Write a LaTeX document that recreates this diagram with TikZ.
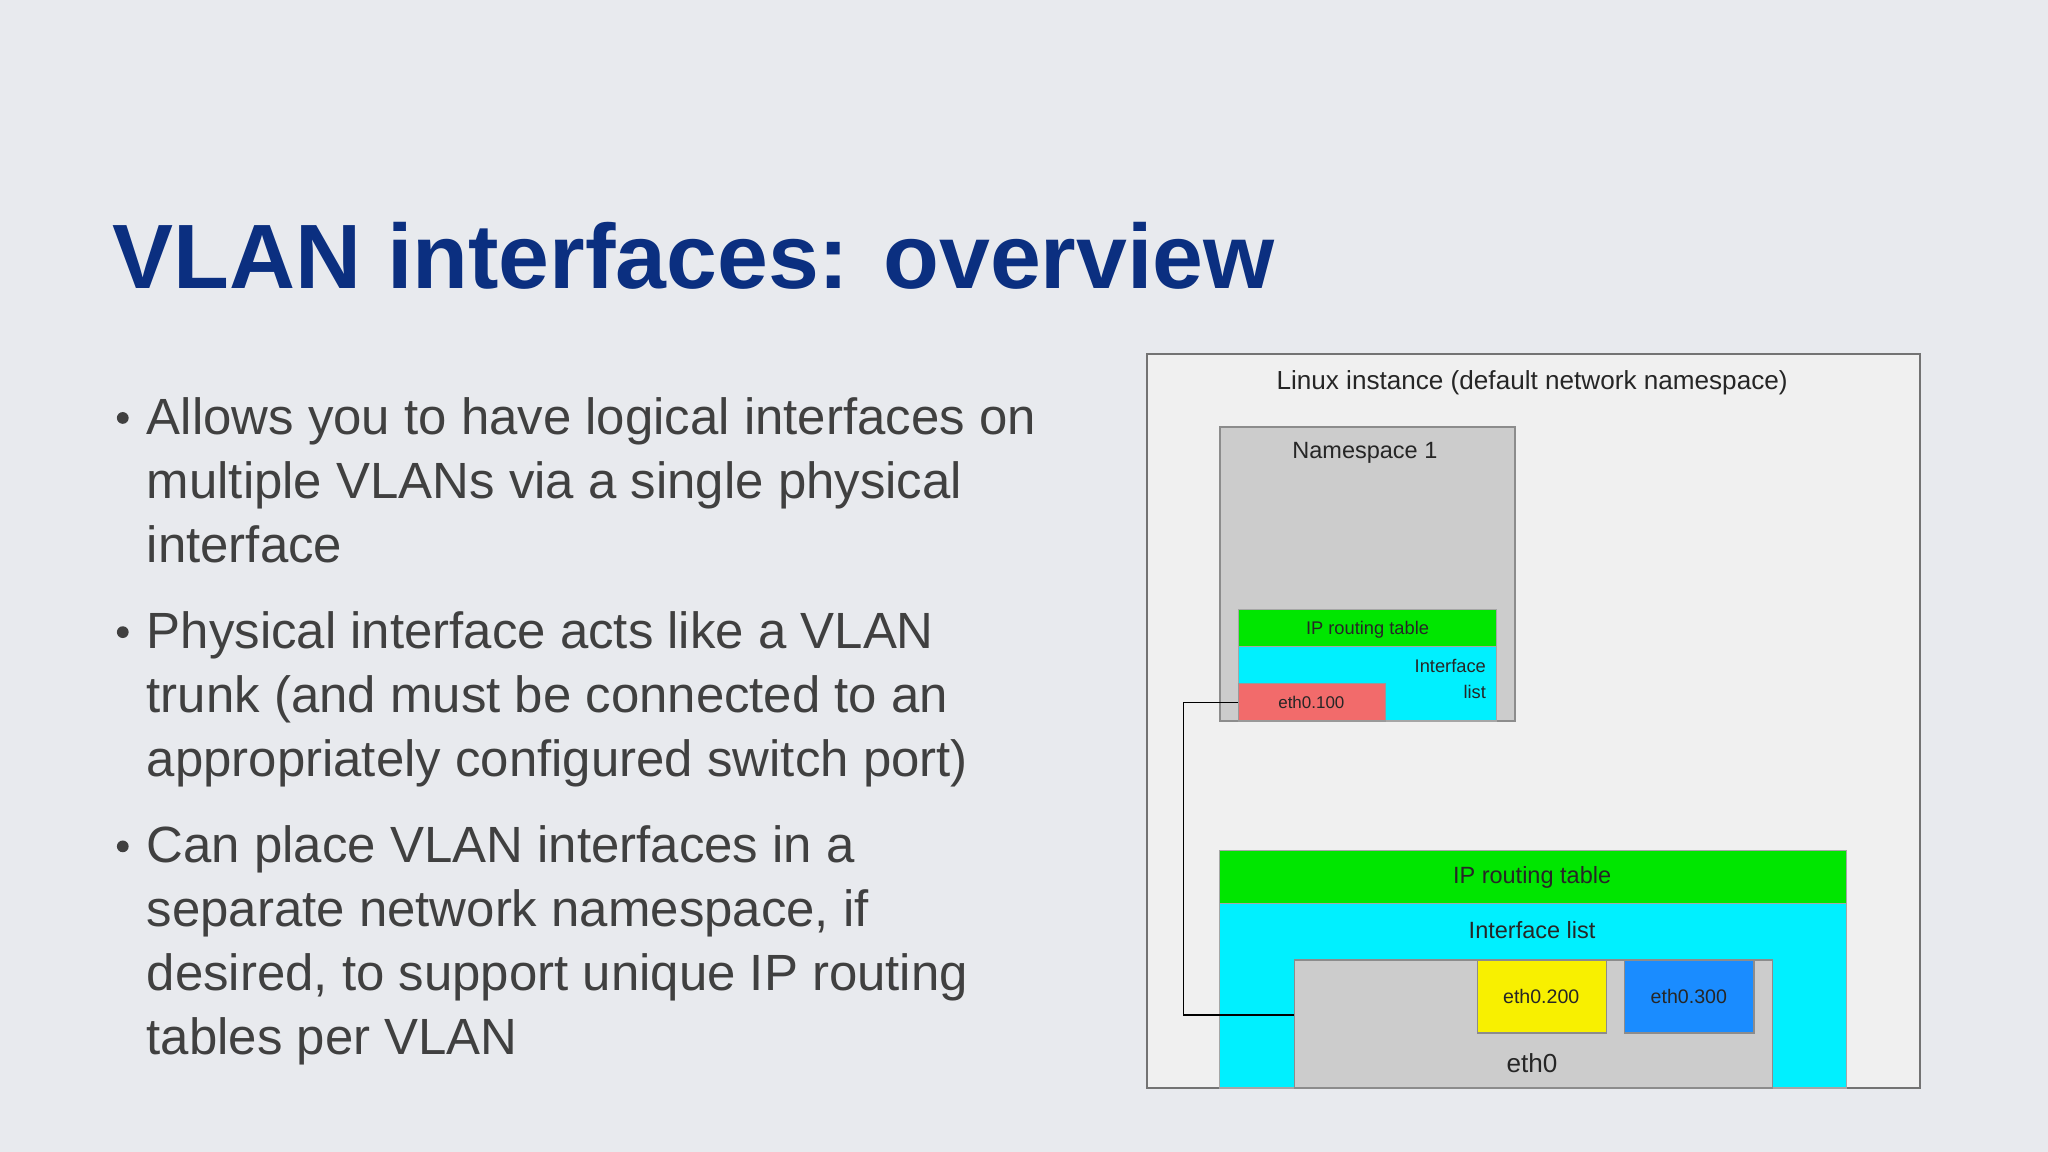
\documentclass[tikz,border=0pt]{standalone}
\usepackage{fontspec}
\setmainfont{Liberation Sans}
\begin{document}
\begin{tikzpicture}[x=0.5pt,y=-0.5pt,
  lab/.style={inner sep=0pt, text=black!85},
  btxt/.style={anchor=north west, align=left, text=black!75, inner sep=0pt, font=\fontsize{19.5}{24.5}\selectfont}]
\definecolor{bg}{HTML}{E8EAEE}
\definecolor{ttl}{HTML}{0B2F80}
\definecolor{grn}{HTML}{00E600}
\definecolor{cyn}{HTML}{00F0FF}
\definecolor{gry}{HTML}{CCCCCC}
\definecolor{red}{HTML}{F26B6B}
\definecolor{yel}{HTML}{F8F000}
\definecolor{blu}{HTML}{1A8CFF}
\fill[bg] (0,0) rectangle (1568,882);
\useasboundingbox (0,0) rectangle (1568,882);
\node[anchor=west, inner sep=0pt, text=ttl, font=\fontsize{35}{38}\selectfont\bfseries] (title) at (86,196) {VLAN interfaces: overview};
\node[btxt] (b1) at (112,304) {Allows you to have logical interfaces on\\multiple VLANs via a single physical\\interface};
\node[btxt] (b2) at (112,468) {Physical interface acts like a VLAN\\trunk (and must be connected to an\\appropriately configured switch port)};
\node[btxt] (b3) at (112,632) {Can place VLAN interfaces in a\\separate network namespace, if\\desired, to support unique IP routing\\tables per VLAN};
\foreach \y in {320,484,648} \fill[black!75] (94,\y) circle (4.5);
% diagram
\filldraw[fill=black!6, draw=black!55, line width=0.6pt] (878,271) rectangle (1470,833);
\node[lab, font=\fontsize{10}{12}\selectfont] (lt) at (1173,293) {Linux instance (default network namespace)};
\filldraw[fill=gry, draw=black!45, line width=0.6pt] (934,327) rectangle (1160,552);
\node[lab, font=\fontsize{9}{11}\selectfont] (ns) at (1045,347) {Namespace 1};
\filldraw[fill=grn, draw=black!35, line width=0.4pt] (948,467) rectangle (1146,495);
\node[lab, font=\fontsize{7}{8}\selectfont] (rt1) at (1047,482) {IP routing table};
\filldraw[fill=cyn, draw=black!35, line width=0.4pt] (948,495) rectangle (1146,552);
\node[lab, anchor=east, align=right, font=\fontsize{7}{10}\selectfont] (il1) at (1138,520) {Interface\\list};
\filldraw[fill=red, draw=black!40, line width=0.4pt] (948,523) rectangle (1061,552);
\node[lab, font=\fontsize{6.5}{8}\selectfont] (e100) at (1004,538) {eth0.100};
\coordinate (e100w) at (948,538);
\filldraw[fill=grn, draw=black!35, line width=0.4pt] (934,651) rectangle (1414,692);
\node[lab, font=\fontsize{9}{11}\selectfont] (rt2) at (1173,672) {IP routing table};
\filldraw[fill=cyn, draw=black!35, line width=0.4pt] (934,692) rectangle (1414,833);
\node[lab, font=\fontsize{9}{11}\selectfont] (il2) at (1173,712) {Interface list};
\filldraw[fill=gry, draw=black!45, line width=0.5pt] (991,735) rectangle (1357,833);
\node[lab, font=\fontsize{10}{12}\selectfont] (eth0) at (1173,814) {eth0};
\coordinate (eth0w) at (991,777);
\filldraw[fill=yel, draw=black!45, line width=0.5pt] (1131,735) rectangle (1230,791);
\node[lab, font=\fontsize{7.5}{9}\selectfont] (e200) at (1180,763) {eth0.200};
\filldraw[fill=blu, draw=black!45, line width=0.5pt] (1244,735) rectangle (1343,791);
\node[lab, font=\fontsize{7.5}{9}\selectfont] (e300) at (1293,763) {eth0.300};
\draw[black, line width=0.6pt] (e100w) -- (906,538) -- (906,777) -- (eth0w);
\end{tikzpicture}
\end{document}
